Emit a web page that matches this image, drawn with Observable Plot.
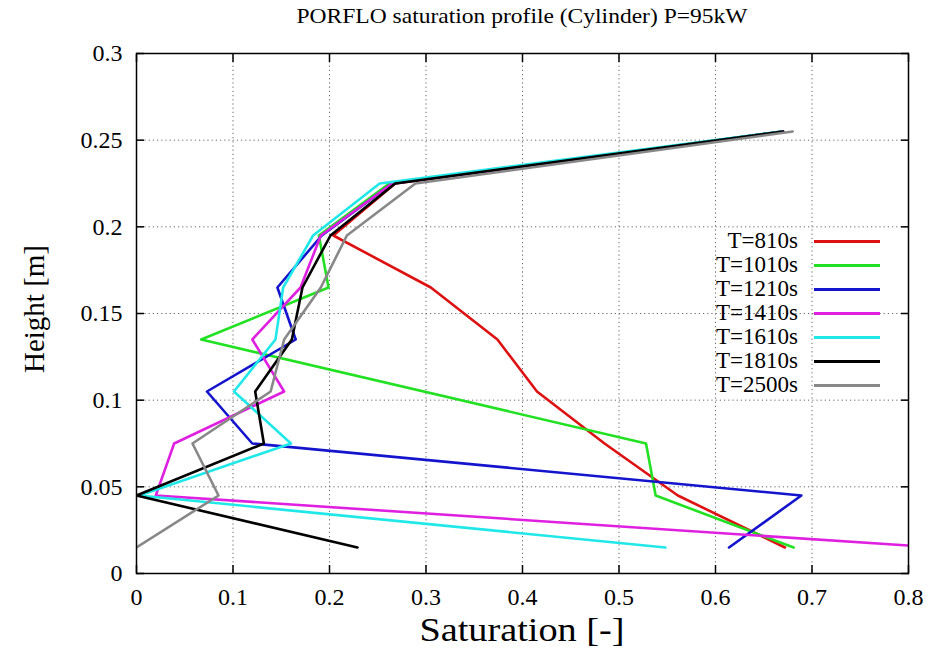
<!DOCTYPE html>
<html><head><meta charset="utf-8">
<script src="https://cdn.jsdelivr.net/npm/d3@7"></script>
<script src="https://cdn.jsdelivr.net/npm/@observablehq/plot@0.6"></script>
<style>
body{margin:0;background:#fff;}
#wrap{position:relative;width:928px;height:648px;font-family:"Liberation Serif",serif;color:#000;overflow:hidden;}
#wrap svg{position:absolute;left:0;top:0;}
#wrap svg text{font-family:"Liberation Serif",serif;}
.title{position:absolute;left:136px;width:772px;top:4px;text-align:center;font-size:21px;line-height:24px;font-family:"Liberation Serif",serif;transform:scaleX(1.12);}
.xlabel{position:absolute;left:136px;width:772px;top:612px;text-align:center;font-size:33px;line-height:36px;font-family:"Liberation Serif",serif;transform:scaleX(1.16);}
.ylabel{position:absolute;left:34px;top:309px;font-size:29px;line-height:34px;white-space:nowrap;font-family:"Liberation Serif",serif;transform:translate(-50%,-50%) rotate(-90deg);}
#legend{position:absolute;right:48px;top:229px;font-family:"Liberation Serif",serif;}
.lrow{display:flex;align-items:center;justify-content:flex-end;height:24px;font-size:23px;font-family:"Liberation Serif",serif;}
.sw{display:inline-block;width:66px;height:3px;margin-left:16px;}
</style></head><body><div id="wrap"></div>
<script>
const titleText = "PORFLO saturation profile (Cylinder) P=95kW";
const xLabel = "Saturation [-]";
const yLabel = "Height [m]";
const seriesNames = ["T=810s","T=1010s","T=1210s","T=1410s","T=1610s","T=1810s","T=2500s"];
const seriesColors = ["#dd1111","#22e022","#1414cc","#e020e0","#20e8e8","#000000","#888888"];
const heights = [0.255,0.225,0.195,0.165,0.135,0.105,0.075,0.045,0.015];
const sat810  = [0.670,0.268,0.204,0.305,0.374,0.415,0.485,0.561,0.672];
const sat1010 = [0.670,0.262,0.189,0.199,0.067,null ,0.528,0.538,0.681];
const sat1210 = [0.670,0.265,0.192,0.146,0.165,0.073,0.120,0.689,0.614];
const sat1410 = [0.670,0.265,0.191,0.170,0.120,0.153,0.039,0.020,0.830];
const sat1610 = [0.668,0.252,0.183,0.152,0.144,0.101,0.160,0.003,0.548];
const sat1810 = [0.670,0.268,0.201,0.172,0.161,0.123,0.132,0.000,0.229];
const sat2500 = [0.680,0.289,0.218,0.191,0.153,0.139,0.058,0.085,0.000];
const xTicks = [0,0.1,0.2,0.3,0.4,0.5,0.6,0.7,0.8];
const yTicks = [0,0.05,0.1,0.15,0.2,0.25,0.3];

const allSeries = [sat810,sat1010,sat1210,sat1410,sat1610,sat1810,sat2500];
const rows = [];
allSeries.forEach((arr,i)=>arr.forEach((v,j)=>{ if(v!=null) rows.push({series:seriesNames[i], sat:v, h:heights[j]}); }));
const fmt = d => String(+d.toFixed(3));
const serif = "Liberation Serif";

const plot = Plot.plot({
  width:928, height:648, marginLeft:136, marginRight:20, marginTop:53, marginBottom:75,
  style:{fontFamily:serif, fontSize:"24px", background:"transparent", color:"#000"},
  x:{domain:[0,0.8], label:null},
  y:{domain:[0,0.3], label:null},
  color:{domain:seriesNames, range:seriesColors},
  marks:[
    Plot.gridX(xTicks.slice(1,-1), {stroke:"#666", strokeOpacity:1, strokeWidth:1, strokeDasharray:"1.2,3"}),
    Plot.gridY(yTicks.slice(1,-1), {stroke:"#666", strokeOpacity:1, strokeWidth:1, strokeDasharray:"1.2,3"}),
    Plot.axisX(xTicks, {anchor:"bottom", tickSize:0, tickPadding:14, tickFormat:fmt, label:null, fontSize:24, fontFamily:serif}),
    Plot.axisY(yTicks, {anchor:"left", tickSize:0, tickPadding:14, tickFormat:fmt, label:null, fontSize:24, fontFamily:serif}),
    Plot.axisX(xTicks, {anchor:"bottom", tickSize:8, text:null, label:null, dy:-8, strokeWidth:1.5}),
    Plot.axisX(xTicks, {anchor:"top", tickSize:8, text:null, label:null, dy:8, strokeWidth:1.5}),
    Plot.axisY(yTicks, {anchor:"left", tickSize:8, text:null, label:null, dx:8, strokeWidth:1.5}),
    Plot.axisY(yTicks, {anchor:"right", tickSize:8, text:null, label:null, dx:-8, strokeWidth:1.5}),
    Plot.line(rows, {x:"sat", y:"h", z:"series", stroke:"series", strokeWidth:2.6, clip:true}),
    Plot.frame({stroke:"#000", strokeWidth:1.5})
  ]
});
const wrap = document.getElementById("wrap");
wrap.appendChild(plot);
const t = document.createElement("div"); t.className="title"; t.textContent=titleText; wrap.appendChild(t);
const xl = document.createElement("div"); xl.className="xlabel"; xl.textContent=xLabel; wrap.appendChild(xl);
const yl = document.createElement("div"); yl.className="ylabel"; yl.textContent=yLabel; wrap.appendChild(yl);
const lg = document.createElement("div"); lg.id="legend";
seriesNames.forEach((n,i)=>{
  const r=document.createElement("div"); r.className="lrow";
  const s=document.createElement("span"); s.textContent=n; r.appendChild(s);
  const w=document.createElement("span"); w.className="sw"; w.style.background=seriesColors[i]; r.appendChild(w);
  lg.appendChild(r);
});
wrap.appendChild(lg);
</script></body></html>
